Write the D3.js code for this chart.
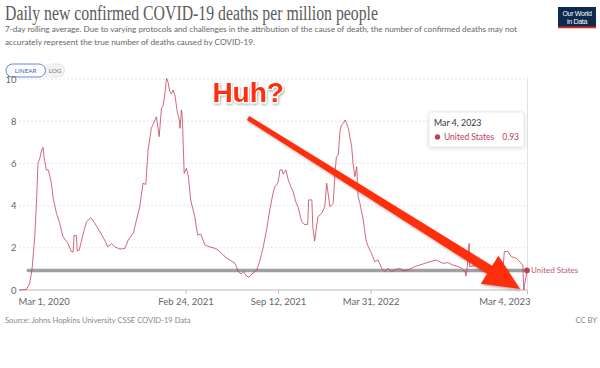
<!DOCTYPE html>
<html><head><meta charset="utf-8">
<script src="https://cdn.jsdelivr.net/npm/d3@7"></script>
<style>html,body{margin:0;padding:0;background:#fff;}svg{display:block;}</style>
</head><body>
<svg id="chart" width="600" height="368"></svg>
<script>
// ---- data ----
const dates = ["2020-03-01","2020-03-17","2020-03-24","2020-03-29","2020-04-04","2020-04-08","2020-04-11","2020-04-15","2020-04-19","2020-04-22","2020-04-24","2020-04-29","2020-05-03","2020-05-07","2020-05-10","2020-05-14","2020-05-21","2020-05-28","2020-06-04","2020-06-15","2020-06-22","2020-06-26","2020-06-28","2020-07-03","2020-07-05","2020-07-09","2020-07-18","2020-07-25","2020-08-03","2020-08-12","2020-08-23","2020-09-02","2020-09-09","2020-09-17","2020-09-24","2020-10-05","2020-10-16","2020-10-23","2020-11-03","2020-11-10","2020-11-17","2020-11-24","2020-11-30","2020-12-05","2020-12-12","2020-12-20","2020-12-23","2020-12-29","2021-01-03","2021-01-06","2021-01-10","2021-01-14","2021-01-17","2021-01-21","2021-01-25","2021-01-28","2021-02-01","2021-02-06","2021-02-10","2021-02-12","2021-02-15","2021-02-17","2021-02-21","2021-02-26","2021-03-02","2021-03-07","2021-03-16","2021-03-22","2021-03-29","2021-04-07","2021-04-16","2021-04-25","2021-05-05","2021-05-16","2021-05-27","2021-05-31","2021-06-11","2021-06-18","2021-06-24","2021-06-29","2021-07-06","2021-07-11","2021-07-17","2021-07-28","2021-08-04","2021-08-11","2021-08-18","2021-08-25","2021-09-01","2021-09-05","2021-09-09","2021-09-12","2021-09-16","2021-09-21","2021-09-23","2021-09-29","2021-10-04","2021-10-11","2021-10-14","2021-10-20","2021-10-25","2021-11-02","2021-11-07","2021-11-15","2021-11-17","2021-11-24","2021-11-26","2021-11-30","2021-12-04","2021-12-07","2021-12-15","2021-12-22","2021-12-26","2021-12-29","2022-01-02","2022-01-09","2022-01-13","2022-01-16","2022-01-20","2022-01-24","2022-01-27","2022-01-31","2022-02-04","2022-02-07","2022-02-11","2022-02-14","2022-02-18","2022-02-21","2022-02-25","2022-03-01","2022-03-04","2022-03-08","2022-03-15","2022-03-21","2022-03-26","2022-04-02","2022-04-09","2022-04-16","2022-04-24","2022-05-01","2022-05-08","2022-05-15","2022-05-22","2022-06-02","2022-06-09","2022-06-20","2022-06-27","2022-07-04","2022-07-15","2022-07-26","2022-08-06","2022-08-20","2022-09-04","2022-09-14","2022-09-25","2022-10-06","2022-10-13","2022-10-21","2022-10-23","2022-10-26","2022-10-30","2022-10-31","2022-11-11","2022-11-26","2022-12-10","2022-12-24","2023-01-11","2023-01-14","2023-01-22","2023-01-29","2023-02-09","2023-02-16","2023-02-23","2023-02-25","2023-03-04"];
const values = [0,0.02,0.32,0.95,2.5,4.27,6.0,6.24,6.63,6.76,6.32,5.69,5.7,5.37,5.06,4.34,3.63,3.16,2.53,2.21,1.82,1.8,2.58,2.58,1.85,1.88,2.69,3.24,3.43,3.16,2.76,2.37,2.05,2.2,2.05,1.94,1.97,2.37,2.69,3.32,3.95,5.06,5.0,6.63,7.66,8.06,8.21,7.27,8.61,8.7,9.24,10.03,9.87,9.4,9.3,9.48,9.24,8.45,8.1,7.66,8.53,8.2,5.53,5.77,5.4,4.27,3.47,2.61,2.64,2.13,2.05,2.0,1.9,1.66,1.47,1.42,1.26,0.87,0.76,0.87,0.66,0.6,0.75,0.95,1.42,2.05,2.84,3.79,4.58,4.9,4.98,5.1,5.69,5.69,5.5,5.69,5.21,4.82,4.7,4.19,3.95,3.24,3.11,3.11,4.27,4.27,3.0,2.32,3.0,3.47,3.63,3.95,5.06,4.6,3.95,4.1,5.53,6.32,6.4,7.58,7.82,7.9,8.06,7.9,7.66,7.27,6.8,6.0,5.37,5.84,4.42,4.1,3.32,2.37,2.05,1.74,1.34,1.42,1.03,0.87,1.03,0.87,0.95,1.03,0.9,0.95,1.03,1.11,1.18,1.26,1.34,1.42,1.26,1.3,1.18,1.11,1.05,0.87,0.66,1.1,2.21,1.11,1.15,1.05,0.98,0.95,0.93,1.82,1.82,1.58,1.5,1.34,1.18,0,0.93];
const countryName = "United States";
const yTicks = [0, 2, 4, 6, 8, 10];
const xTickDates = ["2020-03-01","2021-02-24","2021-09-12","2022-03-31","2023-03-04"];
const xTickLabels = ["Mar 1, 2020","Feb 24, 2021","Sep 12, 2021","Mar 31, 2022","Mar 4, 2023"];
const referenceValue = 0.93;           // grey reference line / last value
const refLineStart = "2020-03-21";
const arrowFrom = {date: "2021-07-09", value: 8.15};
const arrowTo = {date: "2023-02-17", value: 0.05};
const annotationText = "Huh?";
const annotationAt = {date: "2021-04-23", value: 8.9};
const titleText = "Daily new confirmed COVID-19 deaths per million people";
const subtitleLines = ["7-day rolling average. Due to varying protocols and challenges in the attribution of the cause of death, the number of confirmed deaths may not",
  "accurately represent the true number of deaths caused by COVID-19."];
const sourceText = "Source: Johns Hopkins University CSSE COVID-19 Data";
const licenseText = "CC BY";
const tooltipDate = "Mar 4, 2023";

// ---- setup ----
const parse = d3.timeParse("%Y-%m-%d");
const data = dates.map((d, i) => ({date: parse(d), value: values[i]}));
const svg = d3.select("#chart");
const lineColor = "#bd3049";
const sans = "Lato, 'Noto Sans', sans-serif";

const x = d3.scaleTime().domain([parse("2020-03-01"), parse("2023-03-04")]).range([19, 527]);
const y = d3.scaleLinear().domain([0, 10]).range([290, 79]);

// header
svg.append("text").attr("x", 5).attr("y", 20).text(titleText)
  .attr("font-family", "'Liberation Serif', 'DejaVu Serif', serif").attr("font-size", 20)
  .attr("fill", "#5a5a5a").attr("textLength", 373).attr("lengthAdjust", "spacingAndGlyphs");
svg.selectAll("text.sub").data(subtitleLines).join("text").attr("class", "sub")
  .attr("x", 5).attr("y", (d, i) => 32 + i * 12.5).text(d => d)
  .attr("font-family", sans).attr("font-size", 8.4).attr("fill", "#666")
  .attr("textLength", (d, i) => i === 0 ? 512 : 250).attr("lengthAdjust", "spacingAndGlyphs");

// logo
const logo = svg.append("g");
logo.append("rect").attr("x", 558).attr("y", 7).attr("width", 38).attr("height", 21).attr("fill", "#0c2b4f");
logo.append("rect").attr("x", 558).attr("y", 26.5).attr("width", 38).attr("height", 1.8).attr("fill", "#e02a2a");
logo.append("text").attr("x", 577).attr("y", 15.5).attr("text-anchor", "middle").text("Our World")
  .attr("font-family", "'Liberation Sans', Arial, sans-serif").attr("font-size", 7).attr("fill", "#fff").attr("letter-spacing", -0.3);
logo.append("text").attr("x", 577).attr("y", 23.5).attr("text-anchor", "middle").text("in Data")
  .attr("font-family", "'Liberation Sans', Arial, sans-serif").attr("font-size", 7).attr("fill", "#fff").attr("letter-spacing", -0.3);

// LINEAR / LOG toggle
const tg = svg.append("g");
tg.append("rect").attr("x", 45).attr("y", 64).attr("width", 19.5).attr("height", 13).attr("rx", 6.5).attr("fill", "#f2f2f2").attr("stroke", "#ddd").attr("stroke-width", 0.8);
tg.append("rect").attr("x", 45).attr("y", 64).attr("width", 8).attr("height", 13).attr("fill", "#f2f2f2");
tg.append("rect").attr("x", 6).attr("y", 64).attr("width", 39.5).attr("height", 13).attr("rx", 6.5).attr("fill", "#fff").attr("stroke", "#4f7bd9").attr("stroke-width", 0.9);
tg.append("text").attr("x", 25.7).attr("y", 73.3).attr("text-anchor", "middle").text("LINEAR")
  .attr("font-family", sans).attr("font-size", 6.3).attr("fill", "#3b66c4");
tg.append("text").attr("x", 55).attr("y", 73.3).attr("text-anchor", "middle").text("LOG")
  .attr("font-family", sans).attr("font-size", 6.3).attr("fill", "#777");

// grid + y axis
const yAxis = d3.axisLeft(y).tickValues(yTicks).tickSize(0).tickPadding(3);
const gy = svg.append("g").attr("transform", "translate(19,0)").call(yAxis);
gy.select(".domain").remove();
gy.selectAll("text").attr("font-family", sans).attr("font-size", 9.5).attr("fill", "#666").attr("x", -2.5);
svg.append("g").selectAll("line").data(yTicks.filter(t => t > 0)).join("line")
  .attr("x1", 19).attr("x2", 527).attr("y1", d => y(d)).attr("y2", d => y(d))
  .attr("stroke", "#ddd").attr("stroke-width", 0.8).attr("stroke-dasharray", "2,2");

// hover vertical line
const lastDate = data[data.length - 1].date;
svg.append("line").attr("x1", x(lastDate) + 0.5).attr("x2", x(lastDate) + 0.5).attr("y1", y(10) - 1).attr("y2", y(0))
  .attr("stroke", "#e2e2e2").attr("stroke-width", 1);

// x axis
const xAxis = d3.axisBottom(x).tickValues(xTickDates.map(parse)).tickSize(4)
  .tickFormat((d, i) => xTickLabels[i]);
const gx = svg.append("g").attr("transform", "translate(0,290)").call(xAxis);
gx.select(".domain").attr("stroke", "#bbb").attr("d", `M19,0H527`);
gx.selectAll(".tick line").attr("stroke", "#bbb");
gx.selectAll(".tick text").attr("font-family", sans).attr("font-size", 9.5).attr("fill", "#666").attr("y", 8)
  .attr("text-anchor", (d, i) => i === 0 ? "start" : (i === xTickDates.length - 1 ? "end" : "middle"))
  .attr("dx", (d, i) => i === 0 ? -1 : (i === xTickDates.length - 1 ? 3 : 0));
gx.selectAll(".tick").filter((d, i) => i === 0).select("line").remove();

// grey reference line
svg.append("line").attr("x1", x(parse(refLineStart))).attr("x2", x(lastDate))
  .attr("y1", y(referenceValue)).attr("y2", y(referenceValue))
  .attr("stroke", "#8f8f8f").attr("stroke-opacity", 0.85).attr("stroke-width", 3.5).attr("stroke-linecap", "round");

// data line
const line = d3.line().x(d => x(d.date)).y(d => y(d.value));
svg.append("path").datum(data).attr("d", line).attr("fill", "none")
  .attr("stroke", lineColor).attr("stroke-width", 0.85).attr("stroke-opacity", 0.85).attr("stroke-linejoin", "round");

// end dot + label
const last = data[data.length - 1];
svg.append("circle").attr("cx", x(last.date)).attr("cy", y(last.value)).attr("r", 2.8).attr("fill", "#b8405a");
svg.append("text").attr("x", x(last.date) + 4).attr("y", y(last.value) + 3).text(countryName)
  .attr("font-family", sans).attr("font-size", 8).attr("fill", "#c05a70");

// tooltip
const tt = svg.append("g");
tt.append("rect").attr("x", 429).attr("y", 112).attr("width", 95).attr("height", 35).attr("rx", 2)
  .attr("fill", "#fff").attr("stroke", "#e4e4e4").attr("stroke-width", 0.8)
  .style("filter", "drop-shadow(0px 1px 2px rgba(0,0,0,0.12))");
tt.append("text").attr("x", 434).attr("y", 126).text(tooltipDate)
  .attr("font-family", sans).attr("font-size", 8.8).attr("fill", "#333");
tt.append("circle").attr("cx", 437.5).attr("cy", 137).attr("r", 2.7).attr("fill", "#b8405a");
tt.append("text").attr("x", 444).attr("y", 140.2).text(countryName)
  .attr("font-family", sans).attr("font-size", 8.5).attr("fill", "#b8405a");
tt.append("text").attr("x", 519).attr("y", 140.2).attr("text-anchor", "end").text(d3.format(".2f")(last.value))
  .attr("font-family", sans).attr("font-size", 8.5).attr("fill", "#b8405a");

// red arrow annotation
const defs = svg.append("defs");
const f = defs.append("filter").attr("id", "shadow").attr("x", "-20%").attr("y", "-20%").attr("width", "140%").attr("height", "140%");
f.append("feDropShadow").attr("dx", 1).attr("dy", 1.5).attr("stdDeviation", 1.2).attr("flood-color", "#000").attr("flood-opacity", 0.3);

const p0 = [x(parse(arrowFrom.date)), y(arrowFrom.value)];
const p1 = [x(parse(arrowTo.date)), y(arrowTo.value)];
const dx = p1[0] - p0[0], dy = p1[1] - p0[1], L = Math.hypot(dx, dy);
const ux = dx / L, uy = dy / L, nx = -uy, ny = ux;
const headLen = 36, headHalf = 16.5, w0 = 2.3, w1 = 4.8;
const hb = [p1[0] - ux * headLen, p1[1] - uy * headLen];
const pts = [
  [p0[0] + nx * w0, p0[1] + ny * w0],
  [hb[0] + nx * w1, hb[1] + ny * w1],
  [hb[0] + nx * headHalf, hb[1] + ny * headHalf],
  p1,
  [hb[0] - nx * headHalf, hb[1] - ny * headHalf],
  [hb[0] - nx * w1, hb[1] - ny * w1],
  [p0[0] - nx * w0, p0[1] - ny * w0]
];
svg.append("path").attr("d", "M" + pts.map(p => p.join(",")).join("L") + "Z")
  .attr("fill", "#ff2d0d").attr("filter", "url(#shadow)");

svg.append("text").attr("x", x(parse(annotationAt.date))).attr("y", y(annotationAt.value)).text(annotationText)
  .attr("font-family", "'Liberation Sans', Arial, sans-serif").attr("font-weight", "bold").attr("font-size", 28)
  .attr("fill", "#ff2d0d").attr("stroke", "#fff").attr("stroke-width", 2.5).attr("paint-order", "stroke")
  .attr("filter", "url(#shadow)");

// footer
svg.append("text").attr("x", 5).attr("y", 323).text(sourceText)
  .attr("font-family", sans).attr("font-size", 7.6).attr("fill", "#888");
svg.append("text").attr("x", 597).attr("y", 323).attr("text-anchor", "end").text(licenseText)
  .attr("font-family", sans).attr("font-size", 7.6).attr("fill", "#888");
</script>
</body></html>
